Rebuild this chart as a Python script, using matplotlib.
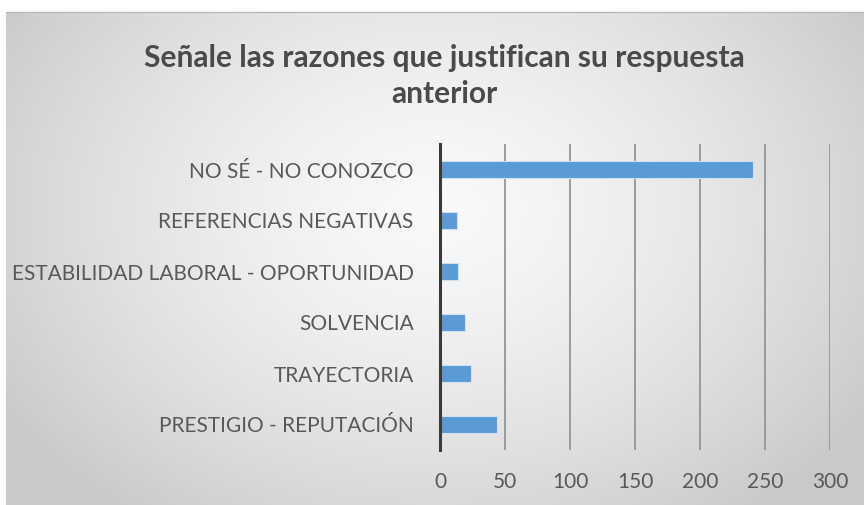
import numpy as np
import matplotlib
matplotlib.use("Agg")
import matplotlib.pyplot as plt

categories = [
    "NO SÉ - NO CONOZCO",
    "REFERENCIAS NEGATIVAS",
    "ESTABILIDAD LABORAL - OPORTUNIDAD",
    "SOLVENCIA",
    "TRAYECTORIA",
    "PRESTIGIO - REPUTACIÓN",
]
values = [241, 13, 14, 19, 24, 44]
x_ticks = [0, 50, 100, 150, 200, 250, 300]
title = "Señale las razones que justifican su respuesta\nanterior"

plt.rcParams["font.family"] = ["Lato", "DejaVu Sans"]
text_color = "#595959"

W, H = 864, 505
fig = plt.figure(figsize=(W / 100, H / 100), dpi=100, facecolor="white")

# chart area with a soft radial gray gradient
bg = fig.add_axes([6 / W, 0, 1 - 6 / W, 1 - 12 / H], zorder=0)
ny, nx = 300, 520
yy, xx = np.mgrid[0:ny, 0:nx]
cx, cy = nx * 0.5, ny * 0.40
r = np.sqrt(((xx - cx) / (nx * 0.6)) ** 2 + ((yy - cy) / (ny * 0.78)) ** 2)
r = np.clip(r, 0, 1)
light, dark = 0.975, 0.79
shade = light - (light - dark) * r ** 1.5
img = np.dstack([shade, shade, shade])
bg.imshow(img, extent=[0, 1, 0, 1], aspect="auto", origin="upper", interpolation="bilinear")
bg.set_axis_off()
bg.plot([0, 1], [1, 1], color="#b8b8b8", lw=1.0, transform=bg.transAxes, clip_on=False)

ax = fig.add_axes([440 / W, 1 - 450 / H, 390 / W, 306 / H], zorder=1)
ax.patch.set_alpha(0)

y = np.arange(len(categories))
ax.barh(y, values, height=0.35, color="#5B9BD5", zorder=3,
        edgecolor="#cfe0f3", linewidth=0.8)

ax.set_xlim(0, 300)
ax.set_ylim(len(categories) - 0.5, -0.5)
ax.set_xticks(x_ticks)
ax.set_xticklabels([str(t) for t in x_ticks])
ax.set_yticks(y)
ax.set_yticklabels(categories)

for t in x_ticks[1:]:
    ax.axvline(t, color="#959595", lw=1.3, zorder=1)

for s in ["top", "right", "bottom"]:
    ax.spines[s].set_visible(False)
ax.spines["left"].set_color("#3a3a3a")
ax.spines["left"].set_linewidth(2.2)
ax.spines["left"].set_zorder(4)

ax.tick_params(axis="both", length=0, colors=text_color, labelsize=15)
ax.tick_params(axis="y", pad=19)
ax.tick_params(axis="x", pad=16)

fig.text(444 / W, 1 - 76 / H, title, ha="center", va="center",
         fontsize=21.5, fontweight="bold", color="#4a4a4a", linespacing=1.33)

fig.savefig("out.png", dpi=100, facecolor="white")
